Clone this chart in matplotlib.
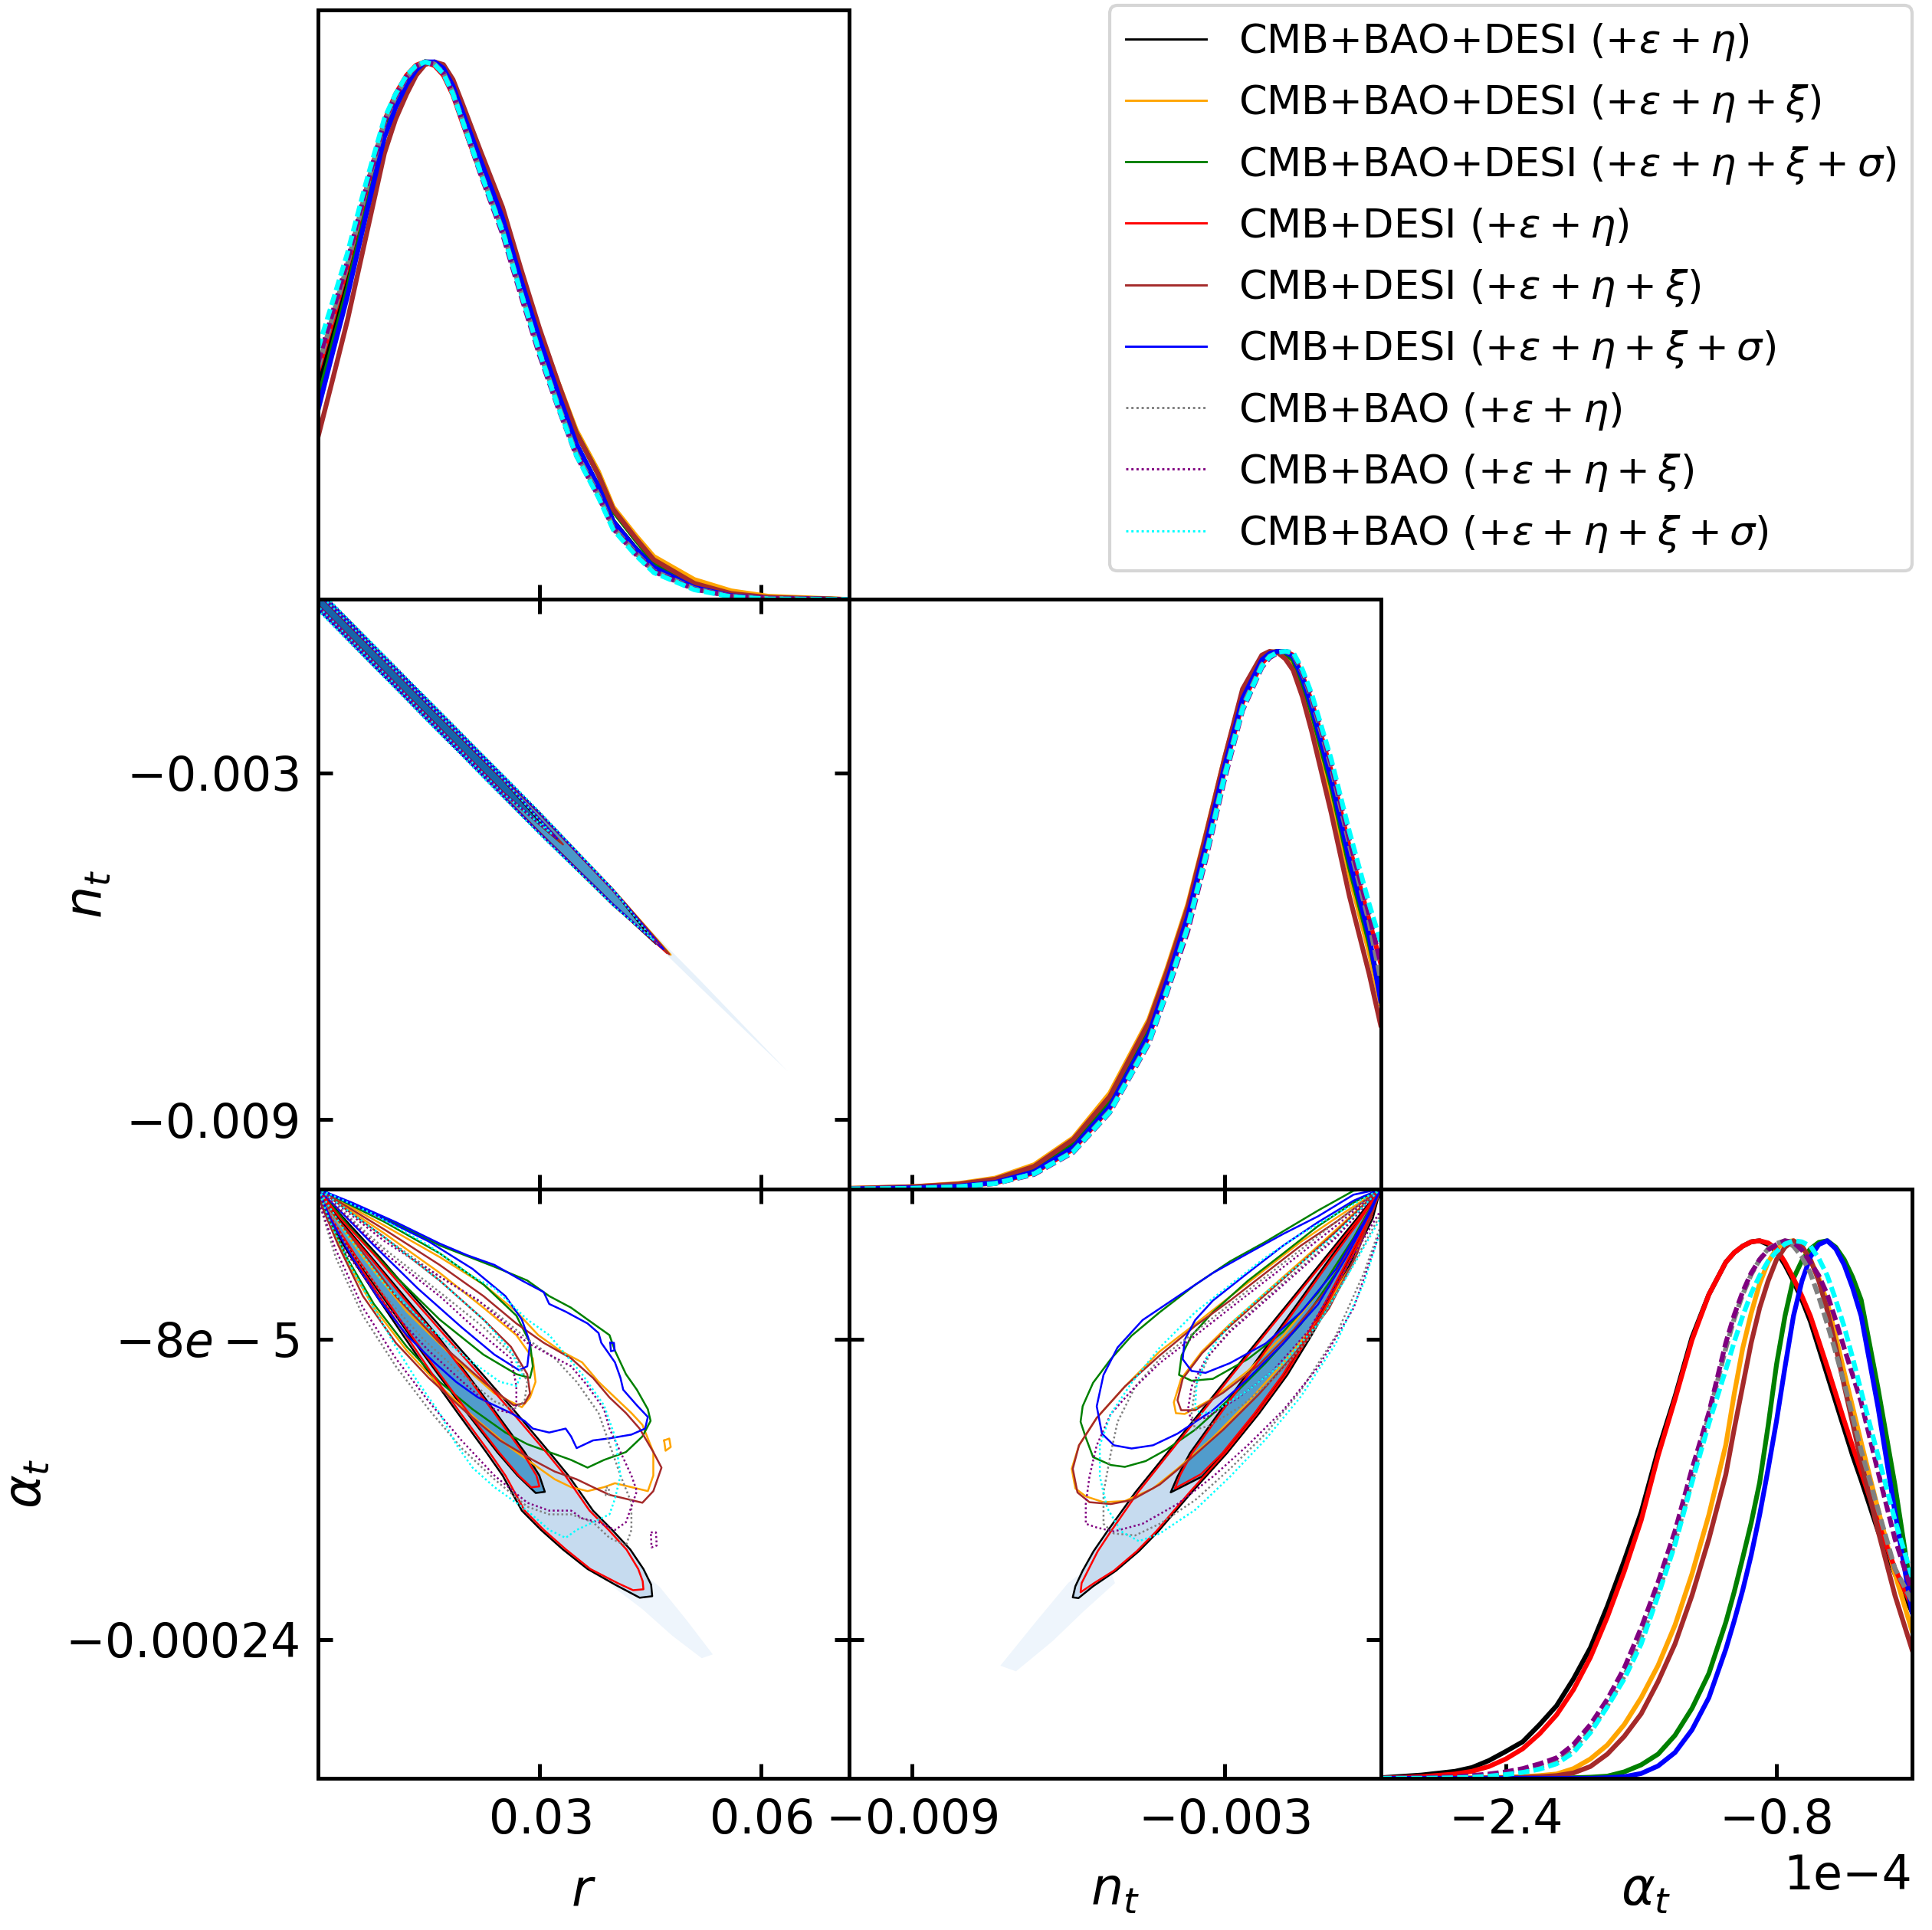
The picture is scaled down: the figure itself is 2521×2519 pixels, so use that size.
import numpy as np
import matplotlib
matplotlib.use("Agg")
import matplotlib.pyplot as plt
from matplotlib.lines import Line2D

plt.rcParams['xtick.labelsize'] = 14.8
plt.rcParams['ytick.labelsize'] = 14.8
plt.rcParams['mathtext.fontset'] = 'dejavusans'

# ---------------- chains ----------------
keys = ['black', 'orange', 'green', 'red', 'brown', 'blue', 'gray', 'purple', 'cyan']
labels = [r'CMB+BAO+DESI ($+\varepsilon+\eta$)',
          r'CMB+BAO+DESI ($+\varepsilon+\eta+\xi$)',
          r'CMB+BAO+DESI ($+\varepsilon+\eta+\xi+\sigma$)',
          r'CMB+DESI ($+\varepsilon+\eta$)',
          r'CMB+DESI ($+\varepsilon+\eta+\xi$)',
          r'CMB+DESI ($+\varepsilon+\eta+\xi+\sigma$)',
          r'CMB+BAO ($+\varepsilon+\eta$)',
          r'CMB+BAO ($+\varepsilon+\eta+\xi$)',
          r'CMB+BAO ($+\varepsilon+\eta+\xi+\sigma$)']

# ---------------- 1D marginals (peak normalised) ----------------
r_grid = [0, 0.002, 0.004, 0.0065, 0.009, 0.0105, 0.012, 0.0133, 0.0145, 0.0158, 0.017, 0.0183, 0.0195, 0.022,
          0.025, 0.0275, 0.030, 0.0325, 0.035, 0.038, 0.040, 0.043, 0.0455, 0.051, 0.056, 0.061, 0.072]
r_black = [0.395, 0.495, 0.594, 0.737, 0.872, 0.925, 0.964, 0.99, 1.0, 0.996, 0.982, 0.948, 0.900, 0.808, 0.701, 0.587, 0.477, 0.381, 0.288, 0.210, 0.146, 0.096, 0.060, 0.023, 0.007, 0.002, 0.0]
r_orange = [0.36, 0.465, 0.57, 0.72, 0.862, 0.917, 0.958, 0.987, 1.0, 0.999, 0.988, 0.955, 0.91, 0.82, 0.715, 0.605, 0.5, 0.405, 0.315, 0.238, 0.172, 0.12, 0.08, 0.037, 0.016, 0.006, 0]
r_green = [0.37, 0.475, 0.578, 0.725, 0.866, 0.92, 0.96, 0.988, 1.0, 0.999, 0.99, 0.958, 0.915, 0.825, 0.72, 0.607, 0.50, 0.40, 0.31, 0.232, 0.165, 0.112, 0.07, 0.028, 0.01, 0.003, 0]
r_red = [0.424, 0.52, 0.62, 0.76, 0.89, 0.94, 0.975, 0.994, 1.0, 0.993, 0.975, 0.938, 0.89, 0.795, 0.69, 0.575, 0.465, 0.37, 0.278, 0.20, 0.14, 0.09, 0.056, 0.021, 0.006, 0.002, 0]
r_brown = [0.302, 0.41, 0.52, 0.675, 0.83, 0.893, 0.94, 0.975, 0.995, 1.0, 0.995, 0.967, 0.925, 0.835, 0.73, 0.615, 0.505, 0.405, 0.31, 0.232, 0.168, 0.115, 0.074, 0.03, 0.011, 0.004, 0]
r_blue = [0.352, 0.46, 0.565, 0.715, 0.86, 0.915, 0.958, 0.985, 1.0, 1.0, 0.988, 0.955, 0.91, 0.818, 0.71, 0.595, 0.485, 0.385, 0.29, 0.21, 0.145, 0.095, 0.06, 0.022, 0.007, 0.002, 0]
r_gray = [0.43, 0.527, 0.624, 0.76, 0.887, 0.935, 0.971, 0.992, 1.0, 0.996, 0.98, 0.943, 0.895, 0.797, 0.688, 0.572, 0.462, 0.364, 0.272, 0.195, 0.134, 0.087, 0.053, 0.02, 0.006, 0.002, 0]
r_purple = [0.44, 0.535, 0.63, 0.765, 0.89, 0.937, 0.972, 0.992, 1.0, 0.995, 0.978, 0.94, 0.892, 0.792, 0.68, 0.565, 0.455, 0.358, 0.268, 0.192, 0.132, 0.085, 0.052, 0.019, 0.006, 0.002, 0]
r_cyan = [0.466, 0.555, 0.645, 0.775, 0.895, 0.94, 0.975, 0.993, 1.0, 0.995, 0.978, 0.94, 0.893, 0.795, 0.685, 0.57, 0.46, 0.36, 0.268, 0.19, 0.13, 0.083, 0.05, 0.018, 0.005, 0.001, 0]

nt_grid = [-0.0102, -0.009, -0.0081, -0.0074, -0.00665, -0.0059, -0.0052, -0.00445, -0.0041, -0.0037, -0.00335,
           -0.003, -0.00265, -0.00228, -0.00213, -0.00198, -0.00183, -0.00168, -0.0015, -0.00132, -0.00095,
           -0.0006, -0.00022, 0.0]
nt_black = [0, 0.002, 0.006, 0.013, 0.034, 0.080, 0.158, 0.292, 0.391, 0.512, 0.646, 0.788, 0.915, 0.986, 0.997, 1.0, 0.997, 0.985, 0.943, 0.887, 0.752, 0.604, 0.462, 0.363]
nt_orange = [0.001, 0.004, 0.010, 0.020, 0.045, 0.095, 0.178, 0.315, 0.41, 0.53, 0.662, 0.80, 0.925, 0.99, 0.998, 1.0, 0.993, 0.978, 0.932, 0.875, 0.735, 0.585, 0.44, 0.345]
nt_green = [0, 0.003, 0.008, 0.016, 0.039, 0.088, 0.165, 0.30, 0.397, 0.518, 0.65, 0.79, 0.915, 0.985, 0.996, 1.0, 0.996, 0.984, 0.94, 0.886, 0.75, 0.60, 0.458, 0.36]
nt_red = [0, 0.002, 0.005, 0.011, 0.030, 0.074, 0.150, 0.283, 0.383, 0.503, 0.636, 0.778, 0.905, 0.978, 0.993, 0.999, 1.0, 0.993, 0.955, 0.905, 0.778, 0.636, 0.50, 0.42]
nt_brown = [0.001, 0.004, 0.009, 0.018, 0.042, 0.092, 0.172, 0.31, 0.405, 0.525, 0.66, 0.80, 0.93, 0.993, 1.0, 0.998, 0.986, 0.965, 0.915, 0.85, 0.70, 0.545, 0.40, 0.305]
nt_blue = [0, 0.002, 0.005, 0.012, 0.032, 0.077, 0.153, 0.287, 0.387, 0.508, 0.642, 0.784, 0.912, 0.984, 0.996, 1.0, 0.999, 0.99, 0.95, 0.895, 0.762, 0.612, 0.47, 0.35]
nt_gray = [0, 0.001, 0.004, 0.010, 0.028, 0.070, 0.145, 0.275, 0.372, 0.49, 0.625, 0.77, 0.898, 0.975, 0.991, 0.998, 1.0, 0.995, 0.96, 0.91, 0.785, 0.64, 0.495, 0.39]
nt_purple = [0, 0.001, 0.004, 0.010, 0.027, 0.068, 0.142, 0.27, 0.365, 0.48, 0.615, 0.76, 0.89, 0.97, 0.988, 0.997, 1.0, 0.997, 0.962, 0.915, 0.792, 0.65, 0.51, 0.42]
nt_cyan = [0, 0.001, 0.004, 0.010, 0.028, 0.069, 0.143, 0.272, 0.368, 0.487, 0.62, 0.765, 0.893, 0.972, 0.99, 0.998, 1.0, 0.998, 0.966, 0.92, 0.80, 0.665, 0.53, 0.46]

# alpha_t grid in units of 1e-4
at_grid = [-3.14, -2.9, -2.7, -2.6, -2.5, -2.4, -2.3, -2.2, -2.1, -2.0, -1.9, -1.8, -1.7, -1.6, -1.5, -1.4, -1.3, -1.2,
           -1.1, -1.05, -1.0, -0.95, -0.9, -0.85, -0.8, -0.75, -0.7, -0.65, -0.6, -0.55, -0.5, -0.45, -0.4, -0.35, -0.3,
           -0.2, -0.1, 0.0]
at_black = [0.001, 0.006, 0.013, 0.02, 0.033, 0.05, 0.068, 0.10, 0.135, 0.185, 0.243, 0.32, 0.405, 0.495, 0.61, 0.71, 0.82, 0.90,
            0.96, 0.978, 0.99, 0.998, 1.0, 0.993, 0.98, 0.955, 0.925, 0.89, 0.85, 0.80, 0.75, 0.70, 0.65, 0.60, 0.555,
            0.46, 0.38, 0.31]
at_orange = [0, 0, 0, 0.001, 0.001, 0.002, 0.003, 0.005, 0.008, 0.018, 0.036, 0.062, 0.10, 0.15, 0.21, 0.285, 0.38, 0.49,
             0.62, 0.715, 0.80, 0.865, 0.92, 0.96, 0.985, 0.998, 1.0, 0.988, 0.965, 0.93, 0.885, 0.822, 0.755, 0.69, 0.625,
             0.50, 0.38, 0.275]
at_green = [0, 0, 0, 0, 0, 0, 0, 0, 0, 0.001, 0.002, 0.004, 0.012, 0.025, 0.045, 0.08, 0.13, 0.195,
            0.29, 0.347, 0.41, 0.475, 0.55, 0.655, 0.77, 0.86, 0.93, 0.963, 0.985, 0.997, 1.0, 0.988, 0.965, 0.932, 0.89,
            0.725, 0.545, 0.34]
at_red = [0.0, 0.003, 0.008, 0.013, 0.022, 0.036, 0.055, 0.083, 0.118, 0.165, 0.225, 0.30, 0.385, 0.48, 0.60, 0.705, 0.815, 0.90,
          0.96, 0.978, 0.99, 0.998, 1.0, 0.996, 0.985, 0.96, 0.93, 0.897, 0.86, 0.813, 0.765, 0.715, 0.665, 0.617, 0.57,
          0.475, 0.39, 0.32]
at_brown = [0, 0, 0, 0, 0.001, 0.001, 0.002, 0.003, 0.005, 0.01, 0.022, 0.045, 0.078, 0.12, 0.18, 0.25, 0.34, 0.445,
            0.565, 0.65, 0.73, 0.81, 0.875, 0.925, 0.965, 0.988, 1.0, 0.99, 0.965, 0.925, 0.87, 0.803, 0.73, 0.66, 0.59,
            0.46, 0.34, 0.24]
at_blue = [0, 0, 0, 0, 0, 0, 0, 0, 0, 0, 0, 0.001, 0.003, 0.009, 0.023, 0.048, 0.09, 0.15,
           0.24, 0.293, 0.35, 0.415, 0.49, 0.575, 0.665, 0.765, 0.86, 0.925, 0.97, 0.993, 1.0, 0.985, 0.955, 0.912, 0.86,
           0.69, 0.495, 0.31]
at_gray = [0, 0.001, 0.002, 0.004, 0.006, 0.009, 0.014, 0.022, 0.032, 0.055, 0.09, 0.135, 0.19, 0.262, 0.345, 0.44, 0.555, 0.675,
           0.80, 0.855, 0.90, 0.937, 0.965, 0.985, 0.995, 1.0, 0.99, 0.97, 0.94, 0.895, 0.845, 0.792, 0.735, 0.673, 0.61,
           0.50, 0.39, 0.33]
at_purple = [0, 0.001, 0.003, 0.005, 0.008, 0.012, 0.018, 0.027, 0.038, 0.063, 0.10, 0.147, 0.205, 0.28, 0.365, 0.46, 0.575, 0.68,
             0.81, 0.862, 0.905, 0.94, 0.965, 0.983, 0.993, 1.0, 0.997, 0.983, 0.96, 0.935, 0.90, 0.852, 0.80, 0.75, 0.70,
             0.57, 0.445, 0.348]
at_cyan = [0, 0, 0.001, 0.002, 0.004, 0.007, 0.011, 0.017, 0.027, 0.048, 0.085, 0.133, 0.185, 0.25, 0.34, 0.435, 0.55, 0.66,
           0.76, 0.812, 0.86, 0.902, 0.935, 0.962, 0.98, 0.994, 1.0, 0.998, 0.99, 0.967, 0.935, 0.89, 0.84, 0.782, 0.72,
           0.60, 0.48, 0.375]

# ---------------- 2D contours ----------------
# panel n_t vs r : (r in 1e-3, n_t in 1e-3)
rn95_black = [(0, 0.16), (15, -1.77), (30, -3.70), (40, -5.03), (45.8, -5.96), (40, -5.28), (30, -4.03), (15, -2.10), (0, -0.16)]
rn68_black = [(0, 0.10), (15, -1.83), (25, -3.11), (31.5, -4.05), (25, -3.33), (15, -2.04), (0, -0.10)]
rn95_orange = [(0, 0.17), (15, -1.76), (30, -3.69), (40, -5.02), (47.8, -6.15), (40, -5.29), (30, -4.04), (15, -2.11), (0, -0.17)]
rn68_orange = [(0, 0.11), (15, -1.82), (25, -3.10), (33.0, -4.22), (25, -3.34), (15, -2.05), (0, -0.11)]
rn95_green = [(0, 0.17), (15, -1.76), (30, -3.69), (40, -5.03), (47.3, -6.10), (40, -5.29), (30, -4.04), (15, -2.11), (0, -0.17)]
rn68_green = [(0, 0.11), (15, -1.82), (25, -3.10), (32.8, -4.20), (25, -3.34), (15, -2.05), (0, -0.11)]
rn95_red = [(0, 0.16), (15, -1.77), (30, -3.70), (40, -5.04), (47.3, -6.12), (40, -5.28), (30, -4.03), (15, -2.10), (0, -0.16)]
rn68_red = [(0, 0.10), (15, -1.83), (25, -3.11), (32.6, -4.17), (25, -3.33), (15, -2.04), (0, -0.10)]
rn95_brown = [(0, 0.17), (15, -1.76), (30, -3.69), (40, -5.02), (47.6, -6.14), (40, -5.29), (30, -4.04), (15, -2.11), (0, -0.17)]
rn68_brown = [(0, 0.11), (15, -1.82), (25, -3.10), (33.2, -4.24), (25, -3.34), (15, -2.05), (0, -0.11)]
rn95_blue = [(0, 0.17), (15, -1.76), (30, -3.69), (40, -5.03), (46.8, -6.05), (40, -5.28), (30, -4.04), (15, -2.11), (0, -0.17)]
rn68_blue = [(0, 0.11), (15, -1.82), (25, -3.10), (32.4, -4.14), (25, -3.34), (15, -2.05), (0, -0.11)]
rn95_gray = [(0, 0.18), (15, -1.75), (30, -3.68), (40, -5.03), (46.0, -5.95), (40, -5.29), (30, -4.05), (15, -2.12), (0, -0.18)]
rn68_gray = [(0, 0.11), (15, -1.82), (25, -3.10), (31.8, -4.07), (25, -3.34), (15, -2.05), (0, -0.11)]
rn95_purple = [(0, 0.18), (15, -1.75), (30, -3.68), (40, -5.03), (46.5, -6.00), (40, -5.29), (30, -4.05), (15, -2.12), (0, -0.18)]
rn68_purple = [(0, 0.11), (15, -1.82), (25, -3.10), (32.2, -4.12), (25, -3.34), (15, -2.05), (0, -0.11)]
rn95_cyan = [(0, 0.19), (15, -1.74), (30, -3.67), (40, -5.02), (45.5, -5.90), (40, -5.30), (30, -4.06), (15, -2.13), (0, -0.19)]
rn68_cyan = [(0, 0.12), (15, -1.81), (25, -3.09), (31.6, -4.05), (25, -3.35), (15, -2.06), (0, -0.12)]
rn_shade_ext = [(42, -5.32), (52, -6.62), (63.6, -8.16), (52, -6.74), (42, -5.50)]

# panel alpha_t vs r : (r in 1e-3, alpha_t in 1e-5)
ra95_black = [(0, 0), (3.49, -1.56), (8.32, -3.63), (12.92, -5.71), (17.60, -7.79), (22.28, -9.87), (26.88, -11.94),
              (31.33, -14.02), (33.93, -15.27), (37.27, -17.14), (39.87, -18.17), (42.32, -19.21), (44.10, -20.25),
              (45.14, -21.08), (45.29, -21.70), (43.6, -21.78), (40.24, -21.08), (36.53, -20.25), (33.19, -19.21),
              (30.22, -18.17), (27.62, -17.14), (25.02, -15.27), (22.79, -14.02), (18.93, -11.94), (15.15, -9.87),
              (11.51, -7.79), (7.94, -5.71), (4.46, -3.63), (1.26, -1.56), (0, 0)]
ra68_black = [(0, 0), (2.75, -1.56), (7.20, -3.63), (11.66, -5.71), (16.11, -7.79), (20.20, -9.87), (24.13, -11.94),
              (27.99, -14.02), (30.00, -15.27), (30.74, -16.14), (29.5, -16.2), (27.03, -15.27), (24.28, -14.02),
              (20.20, -11.94), (16.26, -9.87), (12.40, -7.79), (8.69, -5.71), (4.97, -3.63), (1.63, -1.56), (0, 0)]
ra95_red = [(0, 0), (3.0, -1.56), (7.9, -3.63), (12.5, -5.71), (17.15, -7.79), (21.8, -9.87), (26.4, -11.94), (30.9, -14.02),
            (33.5, -15.27), (36.8, -17.14), (39.4, -18.17), (41.8, -19.21), (43.4, -20.25), (44.0, -20.9), (44.1, -21.33),
            (42.7, -21.38), (40.6, -21.0), (36.9, -20.25), (33.6, -19.21), (30.6, -18.17), (28.0, -17.14), (25.4, -15.27),
            (23.2, -14.02), (19.3, -11.94), (15.5, -9.87), (11.9, -7.79), (8.3, -5.71), (4.8, -3.63), (1.6, -1.56), (0, 0)]
ra68_red = [(0, 0), (2.5, -1.56), (7.0, -3.63), (11.4, -5.71), (15.9, -7.79), (20.0, -9.87), (23.9, -11.94), (27.7, -14.02),
            (29.6, -15.27), (30.0, -15.85), (28.9, -15.9), (27.2, -15.27), (24.5, -14.02), (20.4, -11.94), (16.5, -9.87),
            (12.6, -7.79), (8.9, -5.71), (5.2, -3.63), (1.8, -1.56), (0, 0)]
ra95_blue = [(0, 0), (4.60, -0.73), (10.54, -1.77), (16.48, -2.91), (20.20, -3.53), (23.91, -4.05), (27.62, -4.88),
             (30.59, -5.50), (31.33, -6.13), (33.56, -6.54), (36.53, -7.17), (38.02, -7.68), (38.39, -8.20), (40.24, -9.24),
             (40.99, -10.07), (41.36, -10.70), (43.21, -11.53), (44.70, -12.15), (44.33, -12.77), (42.47, -13.09),
             (39.50, -13.29), (37.27, -13.40), (35.05, -13.81), (34.30, -13.19), (33.56, -12.77), (31.33, -12.98),
             (29.11, -12.77), (27.99, -12.36), (26.14, -11.94), (23.91, -11.53), (21.68, -11.11), (18.71, -10.28),
             (15.74, -9.24), (12.03, -7.79), (8.32, -5.92), (4.60, -3.63), (1.63, -1.56), (0, 0)]
ra68_blue = [(0, 0), (7.57, -1.35), (15.00, -2.80), (20.94, -4.26), (25.39, -5.71), (27.62, -6.96), (28.73, -8.20),
             (28.36, -9.45), (27.25, -9.66), (23.91, -8.83), (19.45, -7.37), (13.51, -5.30), (7.57, -3.01), (2.38, -0.93), (0, 0)]
ra95_green = [(0, 0), (9.06, -1.56), (16.48, -3.01), (23.91, -4.15), (28.36, -4.88), (31.33, -5.71), (34.30, -6.33),
              (36.53, -6.96), (39.50, -7.79), (40.24, -8.62), (41.73, -9.87), (43.21, -10.70), (44.70, -11.74),
              (45.07, -12.36), (43.96, -13.19), (41.73, -14.02), (38.76, -14.44), (36.53, -14.85), (34.30, -14.44),
              (31.33, -14.02), (28.36, -13.60), (25.39, -12.98), (20.94, -11.74), (16.48, -10.28), (12.03, -8.41),
              (7.57, -6.13), (3.86, -3.63), (1.26, -1.35), (0, 0)]
ra68_green = [(0, 0), (9.06, -1.77), (16.48, -3.43), (22.42, -5.09), (26.88, -6.75), (28.73, -8.20), (29.11, -9.45),
              (28.73, -10.07), (26.88, -9.87), (22.42, -8.83), (16.48, -6.96), (10.54, -4.67), (4.60, -2.18), (0, 0)]
ra95_orange = [(0, 0), (9.06, -1.97), (16.48, -3.63), (22.42, -5.09), (26.88, -6.54), (29.85, -7.79), (32.82, -8.62),
               (35.79, -9.24), (38.02, -10.28), (40.24, -11.11), (42.47, -11.94), (43.96, -12.57), (45.44, -14.02),
               (45.44, -15.27), (44.70, -16.10), (42.47, -15.89), (40.24, -15.68), (38.76, -15.89), (36.53, -16.10),
               (34.30, -15.89), (32.08, -15.47), (29.85, -14.85), (26.14, -13.81), (21.68, -12.36), (16.48, -10.49),
               (12.03, -8.62), (7.57, -6.33), (3.86, -3.84), (1.26, -1.56), (0, 0)]
ra68_orange = [(0, 0), (9.06, -2.39), (16.48, -4.47), (22.42, -6.33), (26.88, -7.79), (29.11, -9.03), (29.48, -10.28),
               (28.73, -11.11), (27.62, -11.63), (23.91, -10.90), (17.97, -8.83), (12.03, -6.54), (6.09, -3.63), (1.63, -1.14), (0, 0)]
ra95_brown = [(0, 0), (9.06, -2.18), (16.48, -4.05), (22.42, -5.71), (26.88, -7.17), (30.59, -8.20), (34.30, -9.03),
              (37.27, -10.07), (39.50, -11.11), (41.73, -11.94), (43.58, -12.77), (45.44, -14.02), (46.55, -14.85),
              (45.44, -16.10), (43.96, -16.72), (41.73, -16.51), (39.50, -16.30), (37.27, -15.89), (35.05, -15.47),
              (32.08, -15.06), (29.11, -14.44), (24.65, -13.40), (20.20, -11.94), (15.00, -10.07), (10.54, -8.20),
              (6.09, -5.71), (2.75, -3.01), (0.52, -0.93), (0, 0)]
ra68_brown = [(0, 0), (9.06, -2.60), (16.48, -4.88), (22.42, -6.96), (26.14, -8.41), (28.36, -9.87), (28.73, -10.90),
              (27.99, -11.42), (26.51, -11.53), (22.42, -10.28), (16.48, -8.20), (10.54, -5.71), (5.35, -3.01), (0.89, -0.73), (0, 0)]
ra95_purple = [(0, 0), (9.06, -2.80), (16.48, -4.67), (21.68, -5.92), (25.39, -7.17), (28.36, -8.20), (31.33, -8.83),
               (34.30, -9.45), (36.53, -10.49), (38.76, -11.74), (39.50, -12.77), (40.99, -14.02), (42.47, -15.27),
               (43.21, -16.10), (42.47, -16.93), (41.73, -17.76), (40.24, -18.17), (38.02, -17.76), (35.79, -17.55),
               (34.30, -17.14), (31.33, -17.14), (28.36, -16.72), (23.91, -15.27), (19.45, -13.40), (15.00, -11.32),
               (10.54, -9.03), (6.09, -6.33), (2.38, -3.22), (0.15, -0.73), (0, 0)]
ra68_purple = [(0, 0), (9.06, -3.43), (16.48, -5.71), (21.68, -7.58), (26.14, -9.03), (26.88, -10.49), (26.88, -11.53),
               (26.14, -11.94), (23.91, -11.74), (20.20, -10.49), (15.00, -8.62), (9.06, -6.13), (3.86, -3.43), (0.89, -1.14), (0, 0)]
ra95_gray = [(0, 0), (9.06, -2.60), (16.48, -4.67), (23.91, -6.54), (28.36, -8.00), (32.08, -9.03), (35.05, -10.28),
             (38.02, -11.94), (39.50, -13.60), (40.99, -15.27), (42.47, -16.72), (42.47, -18.17), (41.73, -19.00),
             (39.50, -18.59), (37.27, -17.76), (34.30, -17.34), (31.33, -17.34), (28.36, -16.93), (23.91, -15.47),
             (19.45, -13.81), (15.00, -11.74), (10.54, -9.45), (6.09, -6.75), (2.38, -3.63), (0.15, -0.73), (0, 0)]
ra68_gray = [(0, 0), (9.06, -3.22), (16.48, -5.50), (22.42, -7.37), (26.88, -9.03), (28.36, -10.28), (27.99, -11.32),
             (26.51, -11.74), (23.91, -11.32), (19.45, -9.87), (14.26, -8.00), (9.06, -5.71), (3.86, -3.01), (0, 0)]
ra95_cyan = [(0, 0), (7.57, -1.35), (15.00, -3.01), (20.94, -4.67), (23.91, -5.30), (28.36, -6.96), (31.33, -7.79),
             (35.79, -9.87), (38.76, -11.53), (40.24, -13.19), (40.99, -15.27), (40.24, -16.51), (39.50, -17.34),
             (37.27, -17.76), (35.05, -18.17), (33.56, -18.59), (31.33, -18.17), (28.36, -17.14), (23.91, -15.89),
             (20.94, -14.85), (18.71, -13.60), (16.48, -11.94), (13.51, -10.28), (10.54, -8.41), (7.57, -6.33),
             (4.60, -4.26), (1.63, -1.77), (0, 0)]
ra68_cyan = [(0, 0), (9.06, -2.60), (16.48, -4.88), (22.42, -6.96), (26.14, -8.62), (27.62, -9.87), (26.88, -10.49),
             (24.65, -10.28), (20.20, -9.03), (15.00, -7.37), (9.06, -5.09), (3.86, -2.39), (0, 0)]
ra_islands = [('orange', [(46.9, -13.4), (47.6, -13.3), (47.8, -13.75), (47.1, -13.95), (46.9, -13.4)]),
              ('purple', [(45.1, -18.3), (45.8, -18.3), (45.9, -19.0), (45.2, -19.1), (45.1, -18.3)]),
              ('blue', [(39.6, -8.2), (40.1, -8.2), (40.2, -8.6), (39.7, -8.65), (39.6, -8.2)]),
              ('gray', [(38.9, -15.9), (39.4, -15.9), (39.4, -16.3), (38.9, -16.3), (38.9, -15.9)])]
ra_shade_ext = [(41, -19.5), (46.3, -21.2), (50, -23.0), (53.5, -24.8), (52, -25.0), (48, -23.8), (44, -22.4), (40, -21.2)]

# panel alpha_t vs n_t : (n_t in 1e-3, alpha_t in 1e-5)
na95_black = [(0, 0), (-0.15, -1.56), (-0.52, -3.65), (-0.91, -5.74), (-1.33, -7.82), (-1.79, -9.91), (-2.34, -11.99),
              (-2.95, -14.08), (-3.63, -16.17), (-4.27, -18.25), (-4.64, -19.30), (-5.08, -20.34), (-5.52, -21.17),
              (-5.80, -21.80), (-5.91, -21.76), (-5.86, -21.17), (-5.72, -20.34), (-5.51, -19.30), (-5.25, -18.25),
              (-4.71, -16.17), (-4.10, -14.08), (-3.49, -11.99), (-2.89, -9.91), (-2.28, -7.82), (-1.67, -5.74),
              (-1.06, -3.65), (-0.45, -1.56), (0, 0)]
na68_black = [(0, 0), (-0.20, -1.56), (-0.59, -3.65), (-0.98, -5.74), (-1.40, -7.82), (-1.86, -9.91), (-2.41, -11.99),
              (-3.02, -14.08), (-3.43, -15.33), (-4.03, -16.17), (-3.90, -15.33), (-3.66, -14.08), (-3.12, -11.99),
              (-2.58, -9.91), (-2.04, -7.82), (-1.50, -5.74), (-0.96, -3.65), (-0.40, -1.56), (0, 0)]
na95_red = [(0, 0), (-0.19, -1.56), (-0.56, -3.65), (-0.95, -5.74), (-1.37, -7.82), (-1.83, -9.91), (-2.38, -11.99),
            (-2.99, -14.08), (-3.67, -16.17), (-4.31, -18.25), (-4.68, -19.30), (-5.12, -20.34), (-5.50, -21.0),
            (-5.76, -21.49), (-5.74, -21.0), (-5.62, -20.34), (-5.43, -19.30), (-5.18, -18.25), (-4.66, -16.17),
            (-4.06, -14.08), (-3.45, -11.99), (-2.85, -9.91), (-2.24, -7.82), (-1.63, -5.74), (-1.02, -3.65),
            (-0.41, -1.56), (0, 0)]
na68_red = [(0, 0), (-0.22, -1.56), (-0.61, -3.65), (-1.00, -5.74), (-1.42, -7.82), (-1.88, -9.91), (-2.43, -11.99),
            (-3.04, -14.08), (-3.45, -15.2), (-3.95, -15.96), (-3.84, -15.2), (-3.62, -14.08), (-3.08, -11.99),
            (-2.54, -9.91), (-2.00, -7.82), (-1.46, -5.74), (-0.92, -3.65), (-0.37, -1.56), (0, 0)]
na95_green = [(0, 0), (-0.52, -0.10), (-1.20, -1.15), (-2.21, -2.82), (-2.89, -3.86), (-3.56, -5.11), (-4.24, -6.57),
              (-4.78, -7.82), (-5.18, -9.07), (-5.52, -10.33), (-5.72, -11.58), (-5.76, -12.41), (-5.66, -13.25),
              (-5.52, -14.29), (-5.18, -14.71), (-4.91, -14.81), (-4.51, -14.50), (-4.10, -13.87), (-3.56, -12.83),
              (-2.89, -11.16), (-2.21, -9.28), (-1.53, -7.20), (-0.86, -4.48), (-0.32, -1.77), (0, 0)]
na95_blue = [(0, 0), (-0.52, -0.31), (-1.20, -1.46), (-1.87, -2.40), (-2.55, -3.44), (-3.22, -4.48), (-3.90, -5.74),
             (-4.57, -6.99), (-5.05, -8.45), (-5.32, -9.91), (-5.45, -11.58), (-5.35, -13.04), (-5.12, -13.66),
             (-4.78, -13.83), (-4.37, -13.66), (-3.90, -13.04), (-3.22, -11.79), (-2.55, -10.12), (-1.87, -8.24),
             (-1.20, -6.15), (-0.66, -3.65), (-0.18, -1.15), (0, 0)]
na95_orange = [(0, 0), (-0.86, -1.56), (-1.53, -2.82), (-2.21, -4.28), (-2.89, -5.74), (-3.56, -7.20), (-4.24, -8.66),
               (-4.91, -10.53), (-5.45, -12.20), (-5.79, -13.66), (-5.93, -14.91), (-5.86, -15.96), (-5.66, -16.38),
               (-5.32, -16.69), (-4.91, -16.63), (-4.37, -15.96), (-3.90, -14.91), (-3.22, -13.25), (-2.55, -11.37),
               (-1.87, -9.28), (-1.20, -6.99), (-0.52, -3.86), (0, 0)]
na95_brown = [(0, 0), (-0.86, -1.77), (-1.53, -3.02), (-2.21, -4.48), (-2.89, -5.95), (-3.56, -7.30), (-4.24, -8.87),
              (-4.91, -10.53), (-5.45, -12.20), (-5.79, -13.66), (-5.91, -14.91), (-5.82, -16.17), (-5.59, -16.69),
              (-5.18, -16.79), (-4.78, -16.58), (-4.24, -15.75), (-3.70, -14.50), (-3.02, -12.83), (-2.34, -10.95),
              (-1.67, -8.87), (-0.99, -6.36), (-0.45, -3.44), (0, 0)]
na68_blue = [(0, 0), (-0.52, -0.63), (-1.20, -1.77), (-1.87, -3.02), (-2.55, -4.48), (-3.22, -5.95), (-3.56, -6.99),
             (-3.76, -8.03), (-3.80, -9.07), (-3.63, -9.70), (-3.36, -9.80), (-2.89, -9.28), (-2.21, -8.24),
             (-1.53, -6.57), (-0.86, -4.28), (-0.32, -1.77), (0, 0)]
na68_green = [(0, 0), (-0.52, -0.73), (-1.20, -1.98), (-1.87, -3.44), (-2.55, -4.90), (-3.22, -6.57), (-3.63, -7.82),
              (-3.82, -8.87), (-3.87, -9.91), (-3.63, -10.22), (-3.22, -10.12), (-2.55, -9.07), (-1.87, -7.61),
              (-1.20, -5.53), (-0.52, -2.61), (0, 0)]
na68_orange = [(0, 0), (-0.86, -2.19), (-1.53, -3.86), (-2.21, -5.53), (-2.89, -7.20), (-3.43, -8.66), (-3.83, -10.12),
               (-3.97, -11.37), (-3.93, -11.95), (-3.76, -11.99), (-3.22, -11.16), (-2.55, -9.70), (-1.87, -7.82),
               (-1.20, -5.53), (-0.52, -2.61), (0, 0)]
na68_brown = [(0, 0), (-0.86, -2.29), (-1.53, -3.96), (-2.21, -5.63), (-2.89, -7.30), (-3.43, -8.76), (-3.80, -10.12),
              (-3.90, -11.26), (-3.83, -11.79), (-3.56, -11.79), (-3.02, -10.85), (-2.34, -9.39), (-1.67, -7.51),
              (-0.99, -5.22), (-0.45, -2.40), (0, 0)]
na95_purple = [(0, 0), (-0.86, -1.98), (-1.53, -3.44), (-2.21, -4.90), (-2.89, -6.36), (-3.56, -7.82), (-4.24, -9.28),
               (-4.78, -10.74), (-5.18, -11.99), (-5.45, -13.66), (-5.59, -15.33), (-5.66, -16.79), (-5.66, -17.84),
               (-5.45, -18.04), (-5.12, -18.25), (-4.57, -17.84), (-3.90, -16.79), (-3.22, -15.33), (-2.55, -13.66),
               (-1.87, -11.79), (-1.20, -9.49), (-0.52, -6.36), (-0.05, -2.61), (0, -2.61), (0, 0)]
na95_gray = [(0, 0), (-0.86, -1.77), (-1.53, -3.23), (-2.21, -4.69), (-2.89, -6.15), (-3.56, -7.61), (-4.24, -9.07),
             (-4.71, -10.53), (-5.05, -12.41), (-5.18, -14.08), (-5.32, -16.17), (-5.32, -17.84), (-5.12, -18.36),
             (-4.71, -18.46), (-4.24, -17.84), (-3.56, -16.58), (-2.89, -14.91), (-2.21, -13.04), (-1.53, -10.74),
             (-0.86, -7.82), (-0.32, -4.48), (0, -1.98), (0, 0)]
na95_cyan = [(0, 0), (-0.86, -1.35), (-1.53, -2.40), (-2.21, -3.65), (-2.89, -5.11), (-3.56, -6.57), (-4.24, -8.45),
             (-4.78, -10.33), (-5.18, -11.99), (-5.39, -13.66), (-5.39, -15.33), (-5.25, -17.00), (-4.98, -18.25),
             (-4.64, -18.77), (-4.24, -18.36), (-3.56, -17.10), (-2.89, -15.33), (-2.21, -13.35), (-1.53, -11.06),
             (-0.86, -8.24), (-0.32, -5.01), (0, -2.19), (0, 0)]
na68_purple = [(0, 0), (-0.86, -2.61), (-1.53, -4.28), (-2.21, -5.95), (-2.89, -7.61), (-3.36, -9.07), (-3.63, -10.53),
               (-3.70, -11.79), (-3.63, -12.31), (-3.36, -12.20), (-2.75, -11.16), (-2.07, -9.70), (-1.40, -7.61),
               (-0.72, -4.48), (0, -1.15), (0, 0)]
na68_gray = [(0, 0), (-0.86, -2.50), (-1.53, -4.17), (-2.21, -5.84), (-2.89, -7.51), (-3.29, -8.87), (-3.56, -10.53),
             (-3.63, -11.99), (-3.56, -12.83), (-3.29, -12.62), (-2.68, -11.58), (-2.01, -10.01), (-1.33, -7.82),
             (-0.66, -4.69), (0, -1.36), (0, 0)]
na68_cyan = [(0, 0), (-0.86, -2.40), (-1.53, -3.96), (-2.21, -5.53), (-2.89, -7.20), (-3.29, -8.66), (-3.53, -10.33),
             (-3.56, -11.58), (-3.46, -11.99), (-3.16, -11.79), (-2.55, -10.74), (-1.87, -9.28), (-1.20, -7.20),
             (-0.52, -4.07), (0, -1.56), (0, 0)]
na_shade_ext = [(-5.3, -19.5), (-6.0, -21.0), (-6.6, -23.0), (-7.3, -25.4), (-7.0, -25.7), (-6.3, -24.1),
                (-5.7, -22.5), (-5.1, -21.0)]

# ---------------- styling ----------------
colors = {k: k for k in keys}
ls_1d = {k: ('-' if i < 6 else (0, (2.3, 0.9))) for i, k in enumerate(keys)}
ls_2d = {k: ('-' if i < 6 else (0, (1, 1.3))) for i, k in enumerate(keys)}
g = globals()
shade = plt.cm.Blues

r_lim = (0, 0.072)
nt_lim = (-0.0102, 0)
at_lim = (-3.14e-4, 0)
y1d = (0, 1.0965)

fig = plt.figure(figsize=(2521 / 300, 2519 / 300), dpi=300)
L0, B0, W, H = 0.1646, 0.0786, 0.2750, 0.3054


def make_ax(i, j):
    ax = fig.add_axes([L0 + j * W, B0 + (2 - i) * H, W, H])
    for s in ax.spines.values():
        s.set_linewidth(1.2)
    ax.tick_params(direction='in', length=4.5, width=1.2, pad=6)
    return ax


def plot_1d(ax, grid, prefix, scale):
    x = np.array(grid) * scale
    for k in keys:
        ax.plot(x, g[prefix + k], color=colors[k], ls=ls_1d[k], lw=1.5)
    ax.set_ylim(*y1d)
    ax.set_yticks([])
    ax.tick_params(top=False, right=False, left=False)


def to_xy(pts, sx, sy):
    p = np.array(pts, dtype=float)
    return p[:, 0] * sx, p[:, 1] * sy


def plot_2d(ax, prefix, sx, sy, ext, tones):
    # shaded density of the first chain (stepped)
    x, y = to_xy(ext, sx, sy)
    ax.fill(x, y, color=shade(tones[0]), lw=0, zorder=1)
    x, y = to_xy(g[prefix + '95_black'], sx, sy)
    ax.fill(x, y, color=shade(tones[1]), lw=0, zorder=1)
    x, y = to_xy(g[prefix + '68_black'], sx, sy)
    ax.fill(x, y, color=shade(tones[2]), lw=0, zorder=1)
    for k in keys:
        for lev in ('95', '68'):
            name = prefix + lev + '_' + k
            if name in g:
                x, y = to_xy(g[name], sx, sy)
                ax.plot(x, y, color=colors[k], ls=ls_2d[k], lw=0.6, zorder=2)
    ax.tick_params(top=True, right=True)


# ---- diagonal ----
ax00 = make_ax(0, 0)
plot_1d(ax00, r_grid, 'r_', 1.0)
ax00.set_xlim(*r_lim)
ax00.set_xticks([0.03, 0.06])
ax00.set_xticklabels([])

ax11 = make_ax(1, 1)
plot_1d(ax11, nt_grid, 'nt_', 1.0)
ax11.set_xlim(*nt_lim)
ax11.set_xticks([-0.009, -0.003])
ax11.set_xticklabels([])

ax22 = make_ax(2, 2)
plot_1d(ax22, at_grid, 'at_', 1e-4)
ax22.set_xlim(*at_lim)
ax22.set_xticks([-2.4e-4, -0.8e-4])
ax22.ticklabel_format(axis='x', style='sci', scilimits=(0, 0))
ax22.set_xlabel(r'$\alpha_t$', fontsize=16, labelpad=7)

# ---- n_t vs r ----
ax10 = make_ax(1, 0)
plot_2d(ax10, 'rn', 1e-3, 1e-3, rn_shade_ext, (0.08, 0.6, 0.8))
ax10.set_xlim(*r_lim)
ax10.set_ylim(*nt_lim)
ax10.set_xticks([0.03, 0.06])
ax10.set_xticklabels([])
ax10.set_yticks([-0.003, -0.009], [r'$-0.003$', r'$-0.009$'])
ax10.set_ylabel(r'$n_t$', fontsize=16)

# ---- alpha_t vs r ----
ax20 = make_ax(2, 0)
plot_2d(ax20, 'ra', 1e-3, 1e-5, ra_shade_ext, (0.05, 0.25, 0.58))
for k, pts in ra_islands:
    x, y = to_xy(pts, 1e-3, 1e-5)
    ax20.plot(x, y, color=colors[k], ls=ls_2d[k], lw=0.6, zorder=2)
ax20.set_xlim(*r_lim)
ax20.set_ylim(*at_lim)
ax20.set_xticks([0.03, 0.06], [r'$0.03$', r'$0.06$'])
ax20.set_yticks([-8e-5, -2.4e-4], [r'$-8e-5$', r'$-0.00024$'])
ax20.set_xlabel(r'$r$', fontsize=16, labelpad=7)
ax20.set_ylabel(r'$\alpha_t$', fontsize=16)

# ---- alpha_t vs n_t ----
ax21 = make_ax(2, 1)
plot_2d(ax21, 'na', 1e-3, 1e-5, na_shade_ext, (0.05, 0.25, 0.58))
ax21.set_xlim(*nt_lim)
ax21.set_ylim(*at_lim)
ax21.set_xticks([-0.009, -0.003], [r'$-0.009$', r'$-0.003$'])
ax21.set_yticks([-8e-5, -2.4e-4])
ax21.set_yticklabels([])
ax21.set_xlabel(r'$n_t$', fontsize=16, labelpad=7)

# ---- legend ----
handles = [Line2D([], [], color=colors[k], ls=ls_2d[k], lw=0.7) for k in keys]
fig.legend(handles, labels, loc='upper right', bbox_to_anchor=(0.9897, 0.9972),
           borderaxespad=0, fontsize=12.6)

fig.savefig('out.png', dpi=300)
